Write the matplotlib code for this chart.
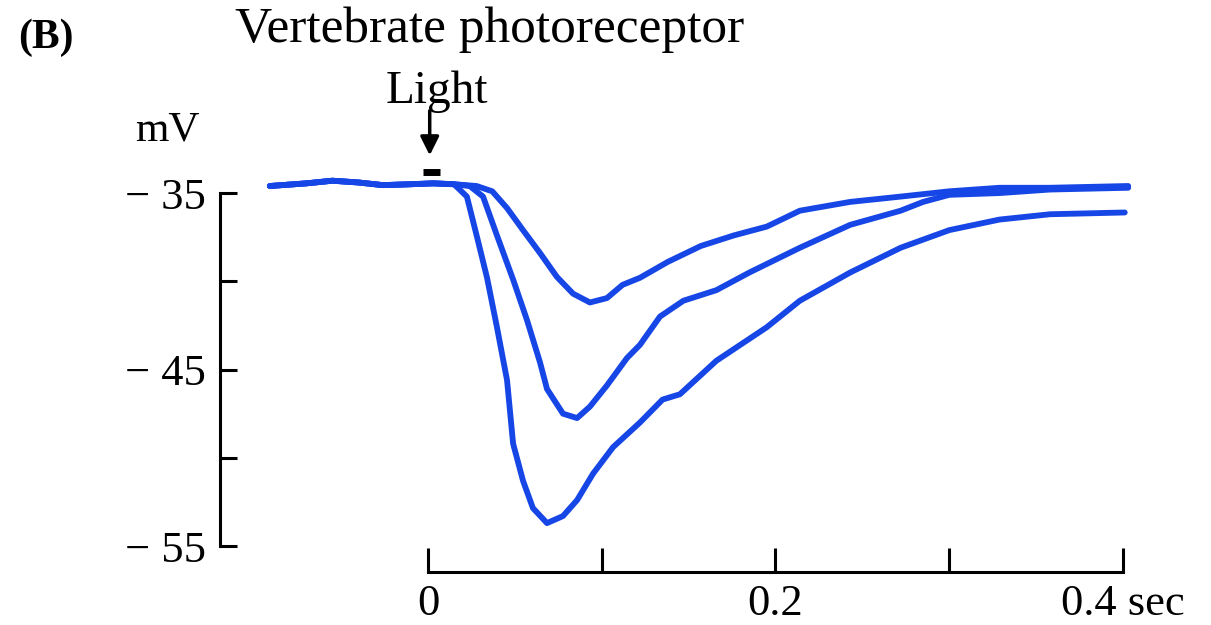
import matplotlib.pyplot as plt

plt.rcParams['font.family'] = ['Liberation Serif', 'DejaVu Serif']

# three recordings, increasing light intensity (time in s, membrane potential in mV)
t_dim = [-0.091, -0.070, -0.055, -0.040, -0.026, -0.010, 0.003, 0.015, 0.028, 0.037,
         0.0455, 0.0547, 0.0645, 0.0742, 0.0835, 0.0932, 0.103, 0.112, 0.122, 0.138,
         0.157, 0.176, 0.195, 0.214, 0.243, 0.272, 0.300, 0.329, 0.358, 0.403]
v_dim = [-34.6, -34.45, -34.3, -34.4, -34.55, -34.5, -34.45, -34.5, -34.6, -34.9,
         -35.85, -37.1, -38.4, -39.75, -40.7, -41.2, -40.95, -40.2, -39.8, -38.9,
         -38.0, -37.4, -36.9, -36.0, -35.5, -35.2, -34.9, -34.7, -34.7, -34.6]

t_mid = [-0.091, -0.070, -0.055, -0.040, -0.026, -0.010, 0.003, 0.015, 0.024, 0.0317,
         0.0397, 0.049, 0.057, 0.0645, 0.0685, 0.0777, 0.0858, 0.0932, 0.103, 0.1145,
         0.122, 0.1335, 0.147, 0.166, 0.185, 0.214, 0.243, 0.272, 0.285, 0.300,
         0.329, 0.358, 0.403]
v_mid = [-34.6, -34.45, -34.3, -34.4, -34.55, -34.5, -34.45, -34.5, -34.6, -35.2,
         -37.4, -39.9, -42.2, -44.6, -46.1, -47.5, -47.75, -47.1, -45.9, -44.35,
         -43.6, -42.0, -41.1, -40.5, -39.5, -38.1, -36.8, -36.0, -35.5, -35.1,
         -35.0, -34.8, -34.7]

t_bright = [-0.091, -0.070, -0.055, -0.040, -0.026, -0.010, 0.003, 0.015, 0.0224, 0.028,
            0.034, 0.0397, 0.0455, 0.049, 0.0547, 0.0604, 0.0685, 0.0777, 0.0858, 0.095,
            0.1065, 0.122, 0.135, 0.145, 0.166, 0.195, 0.214, 0.243, 0.272, 0.300,
            0.329, 0.358, 0.401]
v_bright = [-34.6, -34.45, -34.3, -34.4, -34.55, -34.5, -34.45, -34.5, -35.2, -37.4,
            -39.8, -42.6, -45.6, -49.2, -51.3, -52.85, -53.7, -53.3, -52.4, -50.9,
            -49.4, -48.0, -46.7, -46.4, -44.5, -42.6, -41.1, -39.5, -38.1, -37.1,
            -36.5, -36.2, -36.1]

y_ticks = [-35, -40, -45, -50, -55]
y_labels = ['\u2212 35', '', '\u2212 45', '', '\u2212 55']
x_ticks = [0, 0.1, 0.2, 0.3, 0.4]
x_labels = ['0', '', '0.2', '', '0.4 sec']

W, H = 1211, 625
fig = plt.figure(figsize=(W / 100, H / 100), dpi=100)
ax = fig.add_axes([200 / W, 1 - 590 / H, 980 / W, 440 / H])
ax.set_xlim(-0.1312, 0.4328)
ax.set_ylim(-57.49, -32.56)

blue = '#1746e6'
for t, v in [(t_dim, v_dim), (t_mid, v_mid), (t_bright, v_bright)]:
    ax.plot(t, v, color=blue, lw=4.2, solid_joinstyle='round', solid_capstyle='round')

# bracket-style axes
for s in ['top', 'right']:
    ax.spines[s].set_visible(False)
ax.spines['left'].set_position(('data', -0.1197))
ax.spines['left'].set_bounds(-55, -35)
ax.spines['bottom'].set_position(('data', -56.47))
ax.spines['bottom'].set_bounds(0, 0.4)
for s in ['left', 'bottom']:
    ax.spines[s].set_linewidth(2.2)

ax.set_yticks(y_ticks)
ax.set_yticklabels(y_labels)
ax.set_xticks(x_ticks)
ax.set_xticklabels(x_labels)
ax.tick_params(axis='y', direction='in', length=12, width=2.2, pad=10, labelsize=32)
ax.tick_params(axis='x', direction='in', length=17, width=2.2, pad=9, labelsize=32)

# light stimulus marker
ax.annotate('', xy=(0.001, -33.02), xytext=(0.001, -30.18),
            arrowprops=dict(arrowstyle='-|>', color='black', lw=2.5, mutation_scale=28),
            annotation_clip=False)
ax.plot([-0.003, 0.007], [-33.81, -33.81], color='black', lw=5,
        solid_capstyle='butt', clip_on=False)

fig.text(437 / W, 1 - 92 / H, 'Light', ha='center', va='center', fontsize=34)
fig.text(490 / W, 1 - 30 / H, 'Vertebrate photoreceptor', ha='center', va='center', fontsize=37)
fig.text(18 / W, 1 - 38 / H, '(B)', ha='left', va='center', fontsize=30, fontweight='bold')
fig.text(167 / W, 1 - 130 / H, 'mV', ha='center', va='center', fontsize=31)

fig.savefig('out.png', dpi=100)
